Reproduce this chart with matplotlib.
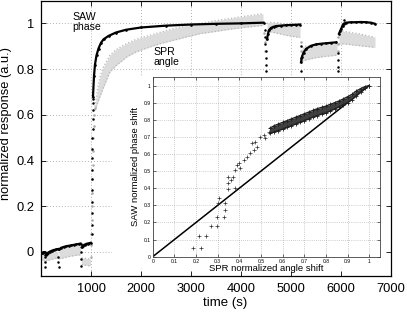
import matplotlib
matplotlib.use("Agg")
import matplotlib.pyplot as plt
from matplotlib.patches import Rectangle

plt.rcParams['font.family'] = ['Liberation Sans', 'DejaVu Sans']

# ---------------- main chart data ----------------
# SAW phase (black), per segment
saw_t1 = [0, 15, 30, 45, 60, 70]
saw_v1 = [-0.004, -0.003, -0.003, -0.002, -0.002, -0.001]
saw_t2 = [90, 110, 140, 180, 220, 260, 300, 340]
saw_v2 = [-0.015, -0.008, -0.003, 0.002, 0.006, 0.009, 0.011, 0.013]
saw_t3 = [365, 400, 450, 500, 550, 600, 650, 700, 750, 790]
saw_v3 = [0.012, 0.018, 0.022, 0.025, 0.027, 0.029, 0.031, 0.033, 0.035, 0.037]
saw_t4 = [815, 840, 870, 900, 930, 960, 990]
saw_v4 = [0.02, 0.028, 0.032, 0.035, 0.037, 0.038, 0.04]
saw_t5 = [1040, 1060, 1080, 1110, 1150, 1200, 1250, 1350, 1500, 1700, 2000,
          2500, 3000, 3500, 4000, 4450]
saw_v5 = [0.68, 0.77, 0.82, 0.86, 0.89, 0.915, 0.93, 0.945, 0.96, 0.972, 0.982,
          0.99, 0.995, 0.998, 1.0, 1.003]
saw_t6 = [4520, 4540, 4560, 4600, 4650, 4700, 4800, 4900, 5000, 5100, 5180]
saw_v6 = [0.93, 0.955, 0.97, 0.98, 0.985, 0.988, 0.99, 0.992, 0.993, 0.994, 0.995]
saw_t7 = [5200, 5220, 5250, 5300, 5400, 5500, 5600, 5700, 5800, 5900]
saw_v7 = [0.83, 0.855, 0.872, 0.888, 0.902, 0.908, 0.911, 0.913, 0.915, 0.917]
saw_t8 = [5960, 5980, 6000, 6030, 6050, 6100, 6200, 6300, 6400, 6500, 6600, 6680]
saw_v8 = [0.955, 0.965, 0.975, 0.99, 0.998, 1.003, 1.005, 1.005, 1.006, 1.005, 1.003, 0.998]
# SAW transient dots (injections)
saw_jump_t = [78, 80, 82, 345, 348, 351, 800, 803, 806,
              1010, 1012, 1014, 1016, 1018, 1020, 1022, 1024, 1026, 1028, 1030,
              1032, 1034, 1036, 1038,
              4480, 4484, 4488, 4492, 4496, 4500, 4504,
              5190, 5194, 5198,
              5930, 5934, 5938, 5942, 6060]
saw_jump_v = [-0.02, -0.045, -0.066, -0.02, -0.045, -0.066, -0.0, -0.03, -0.06,
              0.08, 0.12, 0.17, 0.22, 0.27, 0.32, 0.36, 0.41, 0.45, 0.5, 0.54,
              0.58, 0.62, 0.65, 0.67,
              0.97, 0.94, 0.91, 0.88, 0.85, 0.82, 0.79,
              0.90, 0.85, 0.79,
              0.87, 0.84, 0.81, 0.79, 1.013]

# SPR angle (grey band: upper / lower edges per segment)
spr_t1 = [0, 20, 40, 60, 75]
spr_u1 = [-0.004, -0.004, -0.005, -0.005, -0.006]
spr_l1 = [-0.035, -0.036, -0.037, -0.038, -0.04]
spr_t2 = [90, 150, 200, 250, 300, 340]
spr_u2 = [-0.006, -0.004, -0.002, 0.0, 0.002, 0.004]
spr_l2 = [-0.04, -0.036, -0.033, -0.03, -0.028, -0.026]
spr_t3 = [360, 420, 480, 540, 600, 660, 720, 790]
spr_u3 = [0.015, 0.018, 0.02, 0.022, 0.024, 0.026, 0.028, 0.03]
spr_l3 = [-0.03, -0.027, -0.024, -0.021, -0.018, -0.016, -0.014, -0.012]
spr_t4 = [810, 850, 900, 950, 990]
spr_u4 = [-0.025, -0.027, -0.028, -0.03, -0.03]
spr_l4 = [-0.055, -0.057, -0.058, -0.06, -0.06]
spr_t5 = [1080, 1130, 1180, 1250, 1380, 1500, 1713, 1900, 2180, 2400, 2647,
          2900, 3180, 3500, 3800, 4100, 4440]
spr_u5 = [0.636, 0.71, 0.767, 0.81, 0.861, 0.885, 0.912, 0.93, 0.948, 0.962, 0.977,
          0.99, 1.0, 1.012, 1.022, 1.032, 1.042]
spr_l5 = [0.62, 0.65, 0.68, 0.72, 0.788, 0.815, 0.853, 0.875, 0.897, 0.912, 0.926,
          0.94, 0.955, 0.965, 0.975, 0.983, 0.991]
spr_t6 = [4520, 4600, 4700, 4800, 4900, 5000, 5100, 5180]
spr_u6 = [1.0, 1.004, 1.003, 1.0, 0.998, 0.996, 0.995, 0.993]
spr_l6 = [0.965, 0.962, 0.958, 0.953, 0.948, 0.944, 0.941, 0.938]
spr_t7 = [5220, 5300, 5400, 5500, 5600, 5700, 5800, 5920]
spr_u7 = [0.895, 0.9, 0.902, 0.905, 0.907, 0.909, 0.91, 0.912]
spr_l7 = [0.835, 0.84, 0.845, 0.85, 0.853, 0.856, 0.858, 0.861]
spr_t8 = [5960, 6050, 6150, 6250, 6350, 6450, 6550, 6680]
spr_u8 = [0.968, 0.965, 0.962, 0.958, 0.955, 0.95, 0.945, 0.94]
spr_l8 = [0.91, 0.91, 0.908, 0.905, 0.903, 0.9, 0.898, 0.895]
spr_jump_t = [995, 1000, 1005, 1010, 1015, 1020, 1025, 1030, 1035, 1040, 1050,
              1060, 1070, 4460, 4470, 4480, 5195, 5200, 5205, 5935, 5940, 5945]
spr_jump_v = [-0.02, 0.03, 0.08, 0.14, 0.2, 0.26, 0.32, 0.38, 0.44, 0.5, 0.55,
              0.6, 0.63, 0.96, 0.92, 0.88, 0.92, 0.88, 0.85, 0.88, 0.91, 0.94]

x_ticks = [1000, 2000, 3000, 4000, 5000, 6000, 7000]
y_ticks = [0, 0.2, 0.4, 0.6, 0.8, 1]
y_ticklabels = ['0', '0.2', '0.4', '0.6', '0.8', '1']

# ---------------- inset data ----------------
sc_x = [0.188, 0.222, 0.216, 0.247, 0.269, 0.299, 0.299, 0.330, 0.302, 0.307,
        0.335, 0.335, 0.346, 0.347, 0.350, 0.361, 0.373, 0.381, 0.389, 0.397,
        0.378, 0.404, 0.420, 0.435, 0.451, 0.466, 0.458, 0.474, 0.481, 0.497,
        0.512, 0.520, 0.535]
sc_y = [0.053, 0.053, 0.123, 0.123, 0.181, 0.181, 0.234, 0.234, 0.312, 0.341,
        0.312, 0.273, 0.396, 0.429, 0.468, 0.448, 0.468, 0.507, 0.536, 0.546,
        0.400, 0.517, 0.565, 0.585, 0.604, 0.624, 0.663, 0.673, 0.643, 0.702,
        0.712, 0.692, 0.731]
band_x = [0.54, 0.56, 0.58, 0.60, 0.62, 0.64, 0.66, 0.68, 0.70, 0.72, 0.74, 0.76,
          0.78, 0.80, 0.82, 0.84, 0.86, 0.88, 0.90, 0.92, 0.94, 0.96, 0.98, 1.00]
band_up = [0.75, 0.765, 0.775, 0.785, 0.795, 0.805, 0.815, 0.825, 0.835, 0.845,
           0.855, 0.865, 0.873, 0.88, 0.89, 0.90, 0.91, 0.922, 0.935, 0.948,
           0.968, 0.982, 0.994, 1.0]
band_lo = [0.72, 0.728, 0.737, 0.745, 0.755, 0.765, 0.775, 0.785, 0.795, 0.805,
           0.815, 0.825, 0.833, 0.84, 0.852, 0.863, 0.875, 0.888, 0.90, 0.918,
           0.94, 0.962, 0.985, 1.0]
diag_x = [0, 1]
diag_y = [0, 1]
in_ticks = [0, 0.1, 0.2, 0.3, 0.4, 0.5, 0.6, 0.7, 0.8, 0.9, 1]
in_ticklabels = ['0', '0.1', '0.2', '0.3', '0.4', '0.5', '0.6', '0.7', '0.8', '0.9', '1']

# ---------------- figure ----------------
W, H = 407, 312
fig = plt.figure(figsize=(W / 100, H / 100), dpi=100)
ax = fig.add_axes([41 / W, 36 / H, 350 / W, 275.5 / H])
ax.set_xlim(0, 7000)
ax.set_ylim(-0.105, 1.1)

grid_kw = dict(color='#9a9a9a', lw=0.6, ls=(0, (1, 2.5)), zorder=0.5)
for xv in x_ticks:
    ax.axvline(xv, **grid_kw)
for yv in y_ticks:
    ax.axhline(yv, **grid_kw)

# white panel behind inset
ax.add_patch(Rectangle((112 / W, 36 / H), (390 - 112) / W, (276 - 77) / H,
                       transform=fig.transFigure, facecolor='white',
                       edgecolor='none', zorder=0.8, clip_on=False))

spr_color = '#b8b8b8'
for t, u, l in [(spr_t1, spr_u1, spr_l1), (spr_t2, spr_u2, spr_l2),
                (spr_t3, spr_u3, spr_l3), (spr_t4, spr_u4, spr_l4),
                (spr_t5, spr_u5, spr_l5), (spr_t6, spr_u6, spr_l6),
                (spr_t7, spr_u7, spr_l7), (spr_t8, spr_u8, spr_l8)]:
    ax.fill_between(t, l, u, color='#dcdcdc', lw=0, zorder=1)
    ax.plot(t, u, ls=':', color=spr_color, lw=0.9, zorder=1.1)
    ax.plot(t, l, ls=':', color=spr_color, lw=0.9, zorder=1.1)
ax.plot(spr_jump_t, spr_jump_v, ls='none', marker='.', ms=1.6,
        color='#a8a8a8', zorder=1.2)

for t, v in [(saw_t1, saw_v1), (saw_t2, saw_v2), (saw_t3, saw_v3), (saw_t4, saw_v4),
             (saw_t5, saw_v5), (saw_t6, saw_v6), (saw_t7, saw_v7), (saw_t8, saw_v8)]:
    ax.plot(t, v, color='black', lw=1.6, marker='.', ms=1.8, zorder=2)
ax.plot(saw_jump_t, saw_jump_v, ls='none', marker='.', ms=1.6,
        color='black', zorder=2)

ax.set_xticks(x_ticks)
ax.set_yticks(y_ticks)
ax.set_yticklabels(y_ticklabels)
ax.tick_params(direction='in', length=3.5, width=0.6, labelsize=9.3,
               top=True, right=True, pad=5)
for s in ax.spines.values():
    s.set_linewidth(0.9)
ax.set_xlabel('time (s)', fontsize=9.5)
ax.set_ylabel('normalized response (a.u.)', fontsize=9.3)
ax.xaxis.set_label_coords(0.526, -0.075)
ax.yaxis.set_label_coords(-0.082, 0.553)

ax.text(620, 1.05, 'SAW\nphase', fontsize=7.6, va='top', ha='left',
        linespacing=1.05, zorder=3)
ax.text(2250, 0.897, 'SPR\nangle', fontsize=7.6, va='top', ha='left',
        linespacing=1.05, zorder=3)

# ---------------- inset ----------------
ins = fig.add_axes([152.7 / W, (H - 256.7) / H, (380 - 152.7) / W, (256.7 - 77) / H])
ins.set_zorder(5)
ins.set_xlim(0, 1.05)
ins.set_ylim(0, 1.05)
for v in in_ticks:
    ins.axvline(v, color='#a0a0a0', lw=0.5, ls=(0, (1, 2)), zorder=0.5)
    ins.axhline(v, color='#a0a0a0', lw=0.5, ls=(0, (1, 2)), zorder=0.5)
ins.plot(diag_x, diag_y, color='black', lw=1.1, zorder=2)
ins.plot(sc_x, sc_y, ls='none', marker='+', ms=2.2, mew=0.5, color='#303030', zorder=3)
ins.plot(band_x, band_up, color='#202020', lw=0.9, marker='+', ms=2.6, mew=0.6, zorder=3)
ins.plot(band_x, band_lo, color='#202020', lw=0.9, marker='+', ms=2.6, mew=0.6, zorder=3)
ins.fill_between(band_x, band_lo, band_up, color='#404040', lw=0, zorder=2.5)
ins.set_xticks(in_ticks)
ins.set_yticks(in_ticks)
ins.set_xticklabels(in_ticklabels)
ins.set_yticklabels(in_ticklabels)
ins.tick_params(direction='in', length=2, width=0.4, labelsize=3.6, pad=1.5,
                top=True, right=True)
for s in ins.spines.values():
    s.set_linewidth(0.6)
    s.set_color('#404040')
ins.set_xlabel('SPR normalized angle shift', fontsize=6.8, labelpad=0.5)
ins.set_ylabel('SAW normalized phase shift', fontsize=6.8, labelpad=2.5)

fig.savefig('out.png', dpi=100)
